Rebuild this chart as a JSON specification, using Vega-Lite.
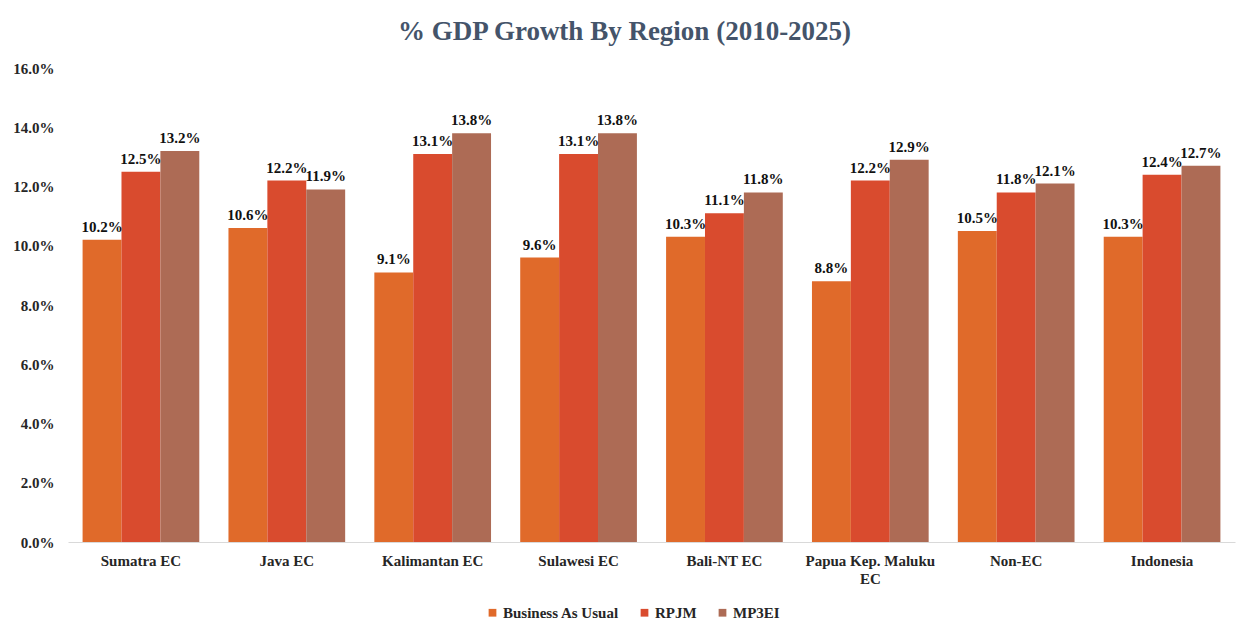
{
  "$schema": "https://vega.github.io/schema/vega-lite/v6.json",
  "width": 1167,
  "height": 474,
  "autosize": {"type": "none"},
  "padding": {"left": 68, "top": 68, "right": 13, "bottom": 94},
  "background": "white",
  "title": {
    "text": "% GDP Growth By Region (2010-2025)",
    "font": "Liberation Serif",
    "fontSize": 27,
    "fontWeight": "bold",
    "color": "#44546A",
    "anchor": "middle",
    "dx": -27,
    "offset": 15
  },
  "data": {
    "values": [
      {"region": "Sumatra EC", "scenario": "Business As Usual", "value": 0.102},
      {"region": "Sumatra EC", "scenario": "RPJM", "value": 0.125},
      {"region": "Sumatra EC", "scenario": "MP3EI", "value": 0.132},
      {"region": "Java EC", "scenario": "Business As Usual", "value": 0.106},
      {"region": "Java EC", "scenario": "RPJM", "value": 0.122},
      {"region": "Java EC", "scenario": "MP3EI", "value": 0.119},
      {"region": "Kalimantan EC", "scenario": "Business As Usual", "value": 0.091},
      {"region": "Kalimantan EC", "scenario": "RPJM", "value": 0.131},
      {"region": "Kalimantan EC", "scenario": "MP3EI", "value": 0.138},
      {"region": "Sulawesi EC", "scenario": "Business As Usual", "value": 0.096},
      {"region": "Sulawesi EC", "scenario": "RPJM", "value": 0.131},
      {"region": "Sulawesi EC", "scenario": "MP3EI", "value": 0.138},
      {"region": "Bali-NT EC", "scenario": "Business As Usual", "value": 0.103},
      {"region": "Bali-NT EC", "scenario": "RPJM", "value": 0.111},
      {"region": "Bali-NT EC", "scenario": "MP3EI", "value": 0.118},
      {"region": "Papua Kep. Maluku EC", "scenario": "Business As Usual", "value": 0.088},
      {"region": "Papua Kep. Maluku EC", "scenario": "RPJM", "value": 0.122},
      {"region": "Papua Kep. Maluku EC", "scenario": "MP3EI", "value": 0.129},
      {"region": "Non-EC", "scenario": "Business As Usual", "value": 0.105},
      {"region": "Non-EC", "scenario": "RPJM", "value": 0.118},
      {"region": "Non-EC", "scenario": "MP3EI", "value": 0.121},
      {"region": "Indonesia", "scenario": "Business As Usual", "value": 0.103},
      {"region": "Indonesia", "scenario": "RPJM", "value": 0.124},
      {"region": "Indonesia", "scenario": "MP3EI", "value": 0.127}
    ]
  },
  "encoding": {
    "x": {
      "field": "region",
      "type": "nominal",
      "sort": null,
      "scale": {"paddingInner": 0.2, "paddingOuter": 0.1},
      "axis": {
        "title": null,
        "labelAngle": 0,
        "labelFont": "Liberation Serif",
        "labelFontSize": 15,
        "labelFontWeight": "bold",
        "labelColor": "#262626",
        "labelPadding": 11,
        "labelLineHeight": 18,
        "ticks": false,
        "domainColor": "#D9D9D9",
        "domainWidth": 1,
        "labelExpr": "datum.label == 'Papua Kep. Maluku EC' ? ['Papua Kep. Maluku', 'EC'] : datum.label"
      }
    },
    "xOffset": {
      "field": "scenario",
      "type": "nominal",
      "sort": ["Business As Usual", "RPJM", "MP3EI"],
      "scale": {"paddingInner": 0, "paddingOuter": 0}
    },
    "y": {
      "field": "value",
      "type": "quantitative",
      "scale": {"domain": [0, 0.16]},
      "axis": {
        "title": null,
        "format": ".1%",
        "values": [0, 0.02, 0.04, 0.06, 0.08, 0.1, 0.12, 0.14, 0.16],
        "labelOverlap": false,
        "grid": false,
        "domain": false,
        "ticks": false,
        "labelFont": "Liberation Serif",
        "labelFontSize": 15,
        "labelFontWeight": "bold",
        "labelColor": "#262626",
        "labelPadding": 14
      }
    }
  },
  "layer": [
    {
      "mark": {"type": "bar"},
      "encoding": {
        "color": {
          "field": "scenario",
          "type": "nominal",
          "sort": ["Business As Usual", "RPJM", "MP3EI"],
          "scale": {
            "domain": ["Business As Usual", "RPJM", "MP3EI"],
            "range": ["#E06A2A", "#D94B2E", "#AD6B55"]
          },
          "legend": {
            "title": null,
            "orient": "none",
            "legendX": 417,
            "legendY": 537,
            "direction": "horizontal",
            "symbolType": "square",
            "symbolSize": 60,
            "labelFont": "Liberation Serif",
            "labelFontSize": 15,
            "labelFontWeight": "bold",
            "labelColor": "#262626",
            "columnPadding": 18,
            "labelOffset": 3
          }
        }
      }
    },
    {
      "mark": {
        "type": "text",
        "baseline": "bottom",
        "dy": -5,
        "font": "Liberation Serif",
        "fontSize": 15,
        "fontWeight": "bold",
        "color": "#111111"
      },
      "encoding": {
        "text": {"field": "value", "type": "quantitative", "format": ".1%"}
      }
    }
  ],
  "config": {
    "view": {"stroke": null}
  }
}
